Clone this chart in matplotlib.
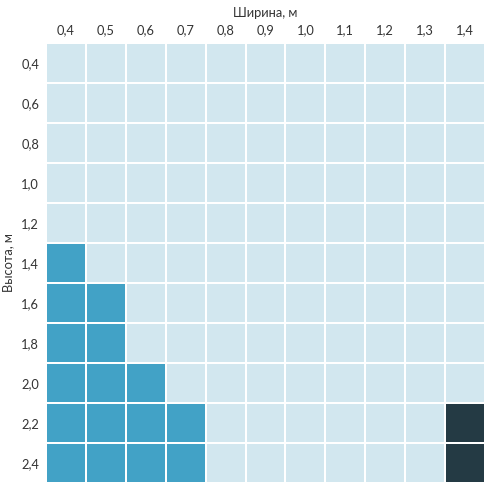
import matplotlib
matplotlib.use("Agg")
import matplotlib.pyplot as plt
from matplotlib.colors import ListedColormap, BoundaryNorm
import numpy as np

widths = ["0,4", "0,5", "0,6", "0,7", "0,8", "0,9", "1,0", "1,1", "1,2", "1,3", "1,4"]
heights = ["0,4", "0,6", "0,8", "1,0", "1,2", "1,4", "1,6", "1,8", "2,0", "2,2", "2,4"]
# 0 = light, 1 = blue, 2 = dark
status = [
    [0, 0, 0, 0, 0, 0, 0, 0, 0, 0, 0],
    [0, 0, 0, 0, 0, 0, 0, 0, 0, 0, 0],
    [0, 0, 0, 0, 0, 0, 0, 0, 0, 0, 0],
    [0, 0, 0, 0, 0, 0, 0, 0, 0, 0, 0],
    [0, 0, 0, 0, 0, 0, 0, 0, 0, 0, 0],
    [1, 0, 0, 0, 0, 0, 0, 0, 0, 0, 0],
    [1, 1, 0, 0, 0, 0, 0, 0, 0, 0, 0],
    [1, 1, 0, 0, 0, 0, 0, 0, 0, 0, 0],
    [1, 1, 1, 0, 0, 0, 0, 0, 0, 0, 0],
    [1, 1, 1, 1, 0, 0, 0, 0, 0, 0, 2],
    [1, 1, 1, 1, 0, 0, 0, 0, 0, 0, 2],
]

plt.rcParams['font.family'] = ['Lato', 'DejaVu Sans']
fig = plt.figure(figsize=(5, 5), dpi=100)
ax = fig.add_axes([0.092, 0.034, 0.878, 0.880])
cmap = ListedColormap(["#d2e7ef", "#42a2c6", "#243a44"])
norm = BoundaryNorm([-0.5, 0.5, 1.5, 2.5], 3)
ax.pcolormesh(np.array(status), cmap=cmap, norm=norm, edgecolors="white", linewidth=1.2)
ax.set_xlim(0, len(widths))
ax.set_ylim(len(heights), 0)
ax.set_xticks(np.arange(len(widths)) + 0.5)
ax.set_xticklabels(widths)
ax.set_yticks(np.arange(len(heights)) + 0.5)
ax.set_yticklabels(heights)
ax.xaxis.tick_top()
ax.xaxis.set_label_position("top")
ax.tick_params(length=0, labelsize=9.3, colors="#333333", pad=5)
ax.set_xlabel("Ширина, м", fontsize=9.3, color="#333333", labelpad=5)
ax.set_ylabel("Высота, м", fontsize=9.3, color="#333333", labelpad=5)
for s in ax.spines.values():
    s.set_visible(False)
fig.savefig("out.png", dpi=100)
